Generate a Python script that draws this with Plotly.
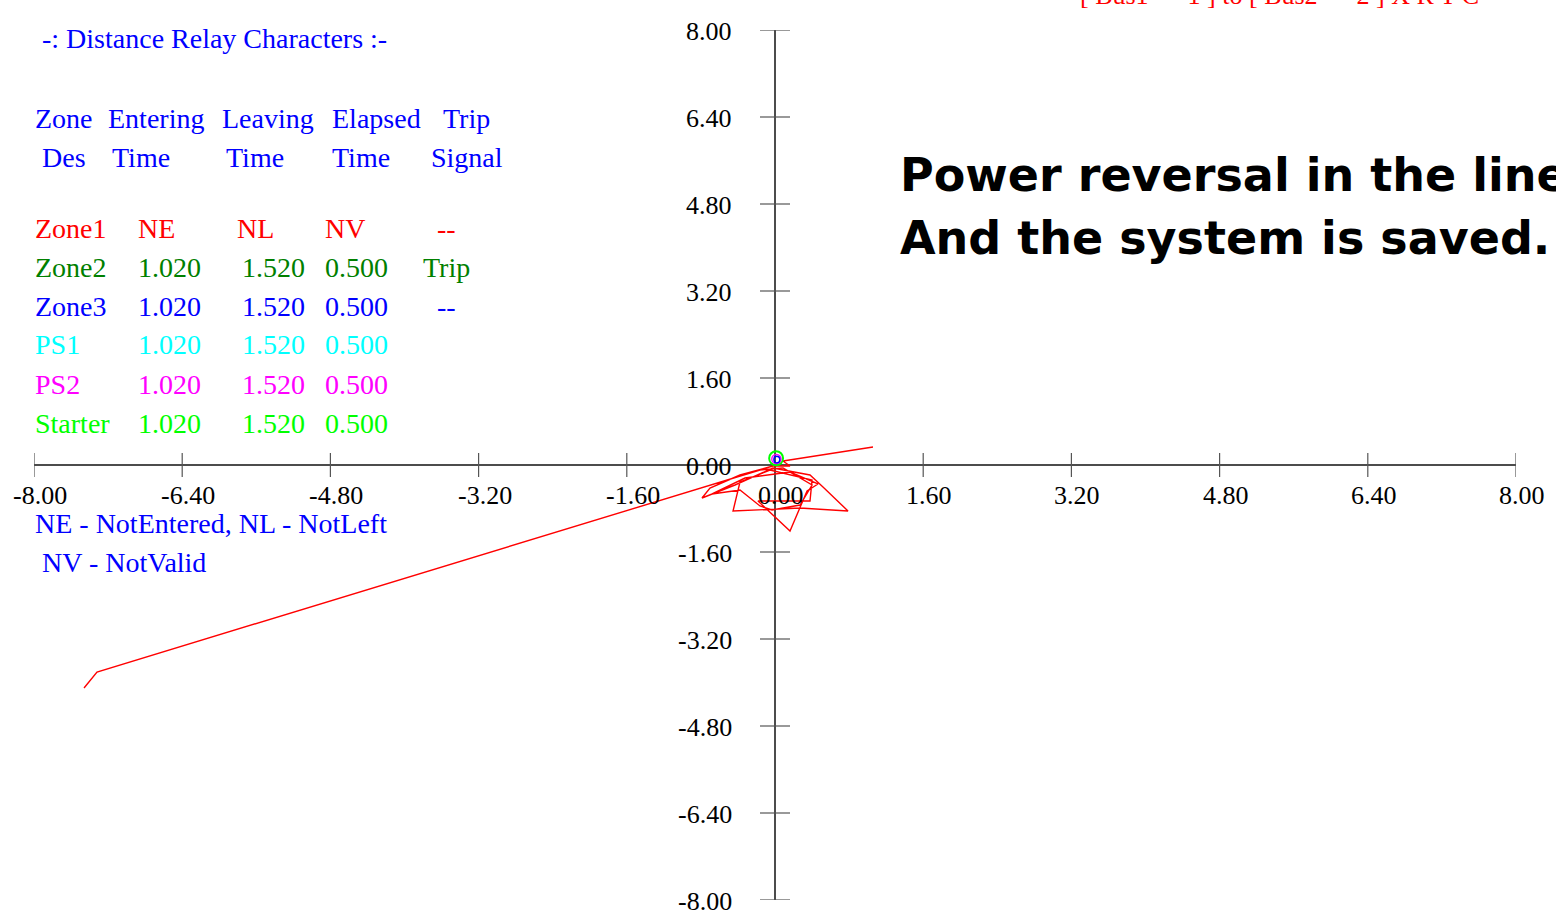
import plotly.graph_objects as go

# ---------------- data ----------------
tick_vals = [-8.0, -6.4, -4.8, -3.2, -1.6, 0.0, 1.6, 3.2, 4.8, 6.4, 8.0]
tick_labels = ["-8.00", "-6.40", "-4.80", "-3.20", "-1.60", "0.00", "1.60", "3.20", "4.80", "6.40", "8.00"]

# impedance trajectory (R, X)
traj_r = [1.058, 0.086, 0.162, -0.022, -0.378, -0.702, -0.788, -0.432, -0.022, 0.378,
          0.518, 0.788, 0.270, -0.453, -0.378, -0.054, 0.400, 0.378, -0.184, 0.162,
          0.346, 0.464, 0.162, -0.324, -0.680, -0.378, -0.162, -0.032, 0.270, 0.400,
          0.086, -0.162, -7.320, -7.460]
traj_x = [0.331, 0.074, -0.018, -0.018, -0.184, -0.423, -0.607, -0.368, -0.055, -0.184,
          -0.405, -0.846, -0.791, -0.846, -0.313, -0.092, -0.276, -0.662, -0.662, -1.214,
          -0.478, -0.349, -0.129, -0.239, -0.533, -0.460, -0.754, -0.828, -0.736, -0.368,
          -0.055, -0.092, -3.807, -4.101]

# relay characteristic circles near origin
circle_names = ["Starter", "PS2", "Zone3"]
circle_cx = [0.012, 0.015, 0.020]
circle_cy = [0.125, 0.110, 0.100]
circle_rx = [0.075, 0.050, 0.032]
circle_ry = [0.130, 0.085, 0.060]
circle_colors = ["#00ff00", "#ff00ff", "#0000ff"]
circle_widths = [2.0, 1.4, 1.4]

# relay table
hdr1 = ["Zone", "Entering", "Leaving", "Elapsed", "Trip"]
hdr2 = ["Des", "Time", "Time", "Time", "Signal"]
zone_names = ["Zone1", "Zone2", "Zone3", "PS1", "PS2", "Starter"]
entering = ["NE", "1.020", "1.020", "1.020", "1.020", "1.020"]
leaving = ["NL", "1.520", "1.520", "1.520", "1.520", "1.520"]
elapsed = ["NV", "0.500", "0.500", "0.500", "0.500", "0.500"]
trip = ["--", "Trip", "--", "", "", ""]
row_colors = ["#ff0000", "#008000", "#0000ff", "#00ffff", "#ff00ff", "#00ff00"]

# ---------------- figure ----------------
W, H = 1556, 923
ML, MR, MT, MB = 34, 40, 30, 23
PW, PH = W - ML - MR, H - MT - MB

fig = go.Figure()

fig.add_trace(go.Scatter(x=traj_r, y=traj_x, mode="lines",
                         line=dict(color="#ff0000", width=1.4),
                         hoverinfo="skip"))

shapes = []
# axes
shapes.append(dict(type="line", xref="x", yref="y", x0=tick_vals[0], x1=tick_vals[-1], y0=0, y1=0,
                   line=dict(color="#111111", width=1.5), layer="below"))
shapes.append(dict(type="line", xref="x", yref="y", x0=0, x1=0, y0=tick_vals[0], y1=tick_vals[-1],
                   line=dict(color="#111111", width=1.5), layer="below"))
for t in tick_vals:
    shapes.append(dict(type="line", xref="x", yref="y", x0=t, x1=t,
                       ysizemode="pixel", yanchor=0, y0=-12, y1=12,
                       line=dict(color="#555555", width=1.2), layer="below"))
    shapes.append(dict(type="line", xref="x", yref="y", y0=t, y1=t,
                       xsizemode="pixel", xanchor=0, x0=-15, x1=15,
                       line=dict(color="#555555", width=1.2), layer="below"))
for cx, cy, rx, ry, c, w in zip(circle_cx, circle_cy, circle_rx, circle_ry, circle_colors, circle_widths):
    shapes.append(dict(type="circle", xref="x", yref="y", x0=cx - rx, x1=cx + rx,
                       y0=cy - ry, y1=cy + ry, line=dict(color=c, width=w)))

annotations = []
serif = "Liberation Serif"


def ptxt(px, py, s, color, size=28, family=serif, bold=False, anchor="left"):
    annotations.append(dict(
        xref="paper", yref="paper",
        x=(px - ML) / PW, y=(H - MB - py) / PH,
        text=("<b>%s</b>" % s) if bold else s,
        showarrow=False, xanchor=anchor, yanchor="middle",
        font=dict(family=family, size=size, color=color)))


# tick labels
for t, lab in zip(tick_vals, tick_labels):
    annotations.append(dict(xref="x", yref="y", x=t, y=0, text=lab, showarrow=False,
                            xanchor="center", yanchor="middle", xshift=6, yshift=-30,
                            font=dict(family=serif, size=26, color="#000000")))
    annotations.append(dict(xref="x", yref="y", x=0, y=t, text=lab, showarrow=False,
                            xanchor="right", yanchor="middle", xshift=-41, yshift=-1,
                            font=dict(family=serif, size=26, color="#000000")))

blue = "#0000ff"
ptxt(40, 38, "-: Distance Relay Characters :-", blue)
h1x = [33, 106, 220, 330, 441]
h2x = [40, 110, 224, 330, 429]
for s, x in zip(hdr1, h1x):
    ptxt(x, 118, s, blue)
for s, x in zip(hdr2, h2x):
    ptxt(x, 157, s, blue)

row_y = [228, 267, 306, 345, 384, 423]
for i in range(len(zone_names)):
    c = row_colors[i]
    y = row_y[i]
    ptxt(33, y, zone_names[i], c)
    ptxt(136, y, entering[i], c)
    ptxt(240 if entering[i] != "NE" else 235, y, leaving[i], c)
    ptxt(323, y, elapsed[i], c)
    if trip[i]:
        ptxt(421 if trip[i] == "Trip" else 435, y, trip[i], c)

ptxt(33, 523, "NE - NotEntered, NL - NotLeft", blue)
ptxt(40, 562, "NV - NotValid", blue)

# cut-off red heading at top
ptxt(1078, -5, "[ Bus1      1 ] to [ Bus2      2 ] X R T C", "#ff0000", size=26)

# bold comment
ptxt(898, 175, "Power reversal in the line", "#000000", size=46, family="DejaVu Sans", bold=True)
ptxt(898, 238, "And the system is saved.", "#000000", size=46, family="DejaVu Sans", bold=True)

fig.update_layout(
    width=W, height=H,
    margin=dict(l=ML, r=MR, t=MT, b=MB, pad=0),
    paper_bgcolor="white", plot_bgcolor="white",
    showlegend=False,
    xaxis=dict(range=[tick_vals[0], tick_vals[-1]], visible=False, fixedrange=True),
    yaxis=dict(range=[tick_vals[0], tick_vals[-1]], visible=False, fixedrange=True),
    shapes=shapes, annotations=annotations,
)

fig.write_html("out.html")
